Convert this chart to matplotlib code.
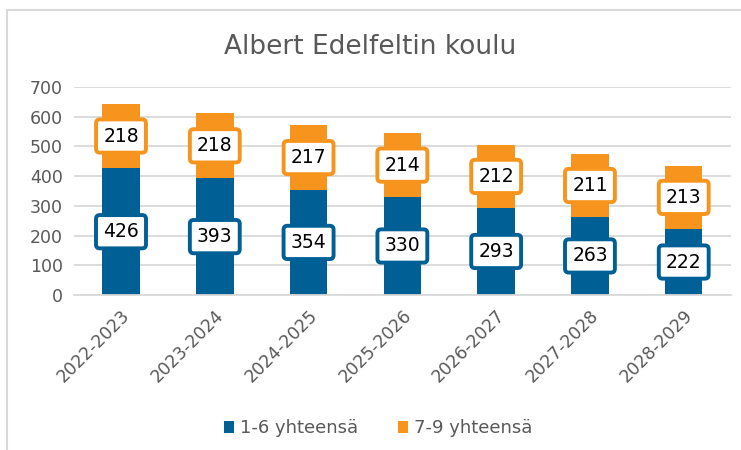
import matplotlib.pyplot as plt
from matplotlib.lines import Line2D

years = ["2022-2023", "2023-2024", "2024-2025", "2025-2026",
         "2026-2027", "2027-2028", "2028-2029"]
grades_1_6 = [426, 393, 354, 330, 293, 263, 222]
grades_7_9 = [218, 218, 217, 214, 212, 211, 213]
series_names = ["1-6 yhteensä", "7-9 yhteensä"]

blue = "#005f94"
orange = "#f7941d"
grey = "#595959"

fig = plt.figure(figsize=(7.41, 4.5), dpi=100)
ax = fig.add_axes([0.1, 0.3444, 0.886, 0.4623])

# frame of the chart area (top and left edges only visible)
fig.add_artist(Line2D([7 / 741, 1], [1 - 10 / 450, 1 - 10 / 450],
                      transform=fig.transFigure, color="#d9d9d9", lw=1.5))
fig.add_artist(Line2D([7 / 741, 7 / 741], [0, 1 - 10 / 450],
                      transform=fig.transFigure, color="#d9d9d9", lw=1.5))

x = range(len(years))
ax.bar(x, grades_1_6, width=0.4, color=blue, label=series_names[0], zorder=2)
ax.bar(x, grades_7_9, width=0.4, bottom=grades_1_6, color=orange,
       label=series_names[1], zorder=2)

for i in x:
    a = grades_1_6[i]
    b = grades_7_9[i]
    ax.text(i, a / 2, str(a), ha="center", va="center", fontsize=13.5,
            color="black", zorder=3,
            bbox=dict(boxstyle="round,pad=0.38,rounding_size=0.2",
                      fc="white", ec=blue, lw=2.8))
    ax.text(i, a + b / 2, str(b), ha="center", va="center", fontsize=13.5,
            color="black", zorder=3,
            bbox=dict(boxstyle="round,pad=0.38,rounding_size=0.2",
                      fc="white", ec=orange, lw=2.8))

ax.set_xlim(-0.5, len(years) - 0.5)
ax.set_ylim(0, 700)
ax.set_yticks(range(0, 701, 100))
ax.set_xticks(list(x))
ax.set_xticklabels(years, rotation=45, ha="right", rotation_mode="anchor")
ax.tick_params(axis="both", length=0, labelsize=12.5, colors=grey, pad=8)
ax.yaxis.grid(True, color="#d9d9d9", lw=1.3, zorder=0)
for s in ax.spines.values():
    s.set_visible(False)
ax.spines["bottom"].set_visible(True)
ax.spines["bottom"].set_color("#d9d9d9")
ax.spines["bottom"].set_linewidth(1.3)

fig.text(0.5, 0.895, "Albert Edelfeltin koulu", ha="center", va="center",
         fontsize=19, color=grey)

fig.legend(loc="center", bbox_to_anchor=(0.51, 0.048), ncol=2, frameon=False,
           fontsize=13, labelcolor=grey, handlelength=0.6, handleheight=0.6,
           handletextpad=0.3, columnspacing=2.2)

fig.savefig("out.png", dpi=100)
